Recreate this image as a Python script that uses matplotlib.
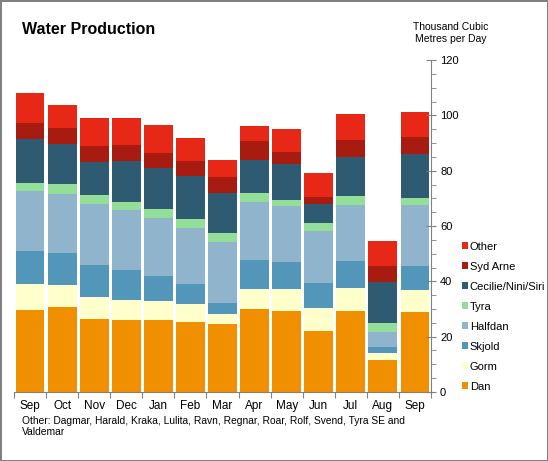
import matplotlib
matplotlib.use("Agg")
import matplotlib.pyplot as plt
import numpy as np

plt.rcParams["font.family"] = ["Liberation Sans", "DejaVu Sans"]

# data (thousand m3/day)
months = ["Sep", "Oct", "Nov", "Dec", "Jan", "Feb", "Mar", "Apr", "May", "Jun", "Jul", "Aug", "Sep"]
dan = [29.7, 30.7, 26.4, 26.0, 26.0, 25.3, 24.6, 30.0, 29.3, 22.0, 29.3, 11.6, 28.9]
gorm = [9.4, 8.0, 7.9, 7.2, 6.9, 6.5, 3.6, 7.2, 7.9, 8.4, 8.3, 2.5, 8.0]
skjold = [12.0, 11.5, 11.6, 10.9, 9.0, 7.2, 4.0, 10.5, 9.8, 9.0, 9.7, 2.2, 8.6]
halfdan = [21.4, 21.4, 22.0, 21.7, 21.0, 20.3, 22.0, 21.0, 20.2, 18.8, 20.3, 5.4, 22.1]
tyra = [3.2, 3.6, 3.3, 2.9, 3.2, 3.2, 3.3, 3.2, 2.2, 2.9, 3.2, 3.2, 2.5]
cecilie = [15.6, 14.4, 11.9, 14.8, 14.9, 15.6, 14.4, 12.1, 13.0, 6.8, 14.1, 14.9, 15.9]
syd_arne = [5.8, 5.8, 5.8, 5.8, 5.4, 5.4, 5.8, 6.6, 4.3, 2.6, 6.2, 5.7, 6.2]
other = [10.9, 8.3, 10.1, 9.7, 10.1, 8.3, 6.1, 5.7, 8.3, 8.6, 9.4, 9.1, 9.0]

series = [
    ("Dan", dan, "#F09000"),
    ("Gorm", gorm, "#FFFFCC"),
    ("Skjold", skjold, "#5297BA"),
    ("Halfdan", halfdan, "#90B4CC"),
    ("Tyra", tyra, "#93DF99"),
    ("Cecilie/Nini/Siri", cecilie, "#2E5B72"),
    ("Syd Arne", syd_arne, "#A81B10"),
    ("Other", other, "#E82817"),
]

fig = plt.figure(figsize=(5.48, 4.61), dpi=100)
fig.patch.set_edgecolor("#808080")
fig.patch.set_linewidth(2)
ax = fig.add_axes([0.0255, 0.1497, 0.761, 0.7201])

x = np.arange(len(months))
bottom = np.zeros(len(months))
handles = []
for name, vals, col in series:
    b = ax.bar(x, vals, 0.9, bottom=bottom, color=col, label=name)
    bottom += np.array(vals)
    handles.append(b)

ax.set_xlim(-0.5, len(months) - 0.5)
ax.set_ylim(0, 120)
ax.yaxis.tick_right()
ax.set_yticks(range(0, 121, 20))
ax.set_yticks(range(0, 121, 5), minor=True)
ax.tick_params(axis="y", which="major", direction="inout", length=7, color="#808080", labelsize=8, pad=3)
ax.tick_params(axis="y", which="minor", direction="out", length=3.5, color="#808080")

ax.set_xticks(np.arange(-0.5, len(months), 1))
ax.set_xticklabels([])
ax.set_xticks(x, minor=True)
ax.set_xticklabels(months, minor=True)
ax.tick_params(axis="x", which="major", direction="out", length=4, color="#808080")
ax.tick_params(axis="x", which="minor", length=0, labelsize=8.5, pad=6)

for s in ["top", "left"]:
    ax.spines[s].set_visible(False)
for s in ["bottom", "right"]:
    ax.spines[s].set_color("#808080")

leg = fig.legend(handles[::-1], [s[0] for s in series][::-1], loc="lower left",
                 bbox_to_anchor=(0.835, 0.141), frameon=False, fontsize=8,
                 borderaxespad=0, handlelength=0.5, handleheight=0.5,
                 handletextpad=0.2, labelspacing=0.9)

fig.text(0.04, 0.935, "Water Production", fontsize=11.5, fontweight="bold", va="center")
fig.text(0.822, 0.929, "Thousand Cubic\nMetres per Day", fontsize=7.5, ha="center", va="center")
fig.text(0.04, 0.075, "Other: Dagmar, Harald, Kraka, Lulita, Ravn, Regnar, Roar, Rolf, Svend, Tyra SE and\nValdemar",
         fontsize=7.4, va="center")

fig.savefig("out.png", dpi=100, edgecolor=fig.get_edgecolor())
